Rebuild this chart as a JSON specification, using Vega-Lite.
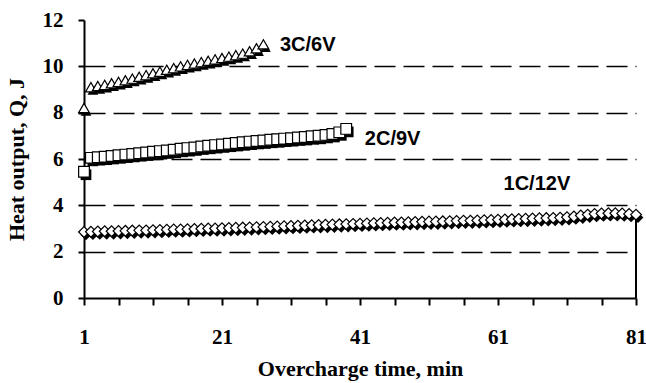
{
  "$schema": "https://vega.github.io/schema/vega-lite/v6.json",
  "width": 552,
  "height": 278,
  "autosize": "none",
  "padding": {"left": 84, "top": 20, "right": 10, "bottom": 85},
  "background": "white",
  "config": {
    "view": {"stroke": null},
    "axis": {
      "labelFont": "Liberation Serif",
      "labelFontWeight": "bold",
      "labelFontSize": 21,
      "labelColor": "black",
      "titleFont": "Liberation Serif",
      "titleFontWeight": "bold",
      "titleFontSize": 22,
      "titleColor": "black",
      "domainColor": "black",
      "domainWidth": 2,
      "tickColor": "black",
      "tickWidth": 2
    }
  },
  "datasets": {
    "heat": [
      {"s": "3C/6V", "t": 1, "q": 8.2},
      {"s": "3C/6V", "t": 2, "q": 9.1},
      {"s": "3C/6V", "t": 3, "q": 9.15},
      {"s": "3C/6V", "t": 4, "q": 9.2},
      {"s": "3C/6V", "t": 5, "q": 9.27},
      {"s": "3C/6V", "t": 6, "q": 9.33},
      {"s": "3C/6V", "t": 7, "q": 9.4},
      {"s": "3C/6V", "t": 8, "q": 9.47},
      {"s": "3C/6V", "t": 9, "q": 9.55},
      {"s": "3C/6V", "t": 10, "q": 9.62},
      {"s": "3C/6V", "t": 11, "q": 9.7},
      {"s": "3C/6V", "t": 12, "q": 9.77},
      {"s": "3C/6V", "t": 13, "q": 9.85},
      {"s": "3C/6V", "t": 14, "q": 9.92},
      {"s": "3C/6V", "t": 15, "q": 10.0},
      {"s": "3C/6V", "t": 16, "q": 10.06},
      {"s": "3C/6V", "t": 17, "q": 10.12},
      {"s": "3C/6V", "t": 18, "q": 10.18},
      {"s": "3C/6V", "t": 19, "q": 10.24},
      {"s": "3C/6V", "t": 20, "q": 10.3},
      {"s": "3C/6V", "t": 21, "q": 10.36},
      {"s": "3C/6V", "t": 22, "q": 10.42},
      {"s": "3C/6V", "t": 23, "q": 10.48},
      {"s": "3C/6V", "t": 24, "q": 10.55},
      {"s": "3C/6V", "t": 25, "q": 10.65},
      {"s": "3C/6V", "t": 26, "q": 10.78},
      {"s": "3C/6V", "t": 27, "q": 10.95},
      {"s": "2C/9V", "t": 1, "q": 5.45},
      {"s": "2C/9V", "t": 2, "q": 6.05},
      {"s": "2C/9V", "t": 3, "q": 6.08},
      {"s": "2C/9V", "t": 4, "q": 6.1},
      {"s": "2C/9V", "t": 5, "q": 6.13},
      {"s": "2C/9V", "t": 6, "q": 6.16},
      {"s": "2C/9V", "t": 7, "q": 6.19},
      {"s": "2C/9V", "t": 8, "q": 6.22},
      {"s": "2C/9V", "t": 9, "q": 6.25},
      {"s": "2C/9V", "t": 10, "q": 6.28},
      {"s": "2C/9V", "t": 11, "q": 6.31},
      {"s": "2C/9V", "t": 12, "q": 6.34},
      {"s": "2C/9V", "t": 13, "q": 6.37},
      {"s": "2C/9V", "t": 14, "q": 6.4},
      {"s": "2C/9V", "t": 15, "q": 6.44},
      {"s": "2C/9V", "t": 16, "q": 6.47},
      {"s": "2C/9V", "t": 17, "q": 6.5},
      {"s": "2C/9V", "t": 18, "q": 6.54},
      {"s": "2C/9V", "t": 19, "q": 6.57},
      {"s": "2C/9V", "t": 20, "q": 6.6},
      {"s": "2C/9V", "t": 21, "q": 6.63},
      {"s": "2C/9V", "t": 22, "q": 6.66},
      {"s": "2C/9V", "t": 23, "q": 6.69},
      {"s": "2C/9V", "t": 24, "q": 6.72},
      {"s": "2C/9V", "t": 25, "q": 6.75},
      {"s": "2C/9V", "t": 26, "q": 6.78},
      {"s": "2C/9V", "t": 27, "q": 6.8},
      {"s": "2C/9V", "t": 28, "q": 6.83},
      {"s": "2C/9V", "t": 29, "q": 6.85},
      {"s": "2C/9V", "t": 30, "q": 6.88},
      {"s": "2C/9V", "t": 31, "q": 6.9},
      {"s": "2C/9V", "t": 32, "q": 6.93},
      {"s": "2C/9V", "t": 33, "q": 6.95},
      {"s": "2C/9V", "t": 34, "q": 6.98},
      {"s": "2C/9V", "t": 35, "q": 7.0},
      {"s": "2C/9V", "t": 36, "q": 7.04},
      {"s": "2C/9V", "t": 37, "q": 7.08},
      {"s": "2C/9V", "t": 38, "q": 7.15},
      {"s": "2C/9V", "t": 39, "q": 7.3},
      {"s": "1C/12V", "t": 1, "q": 2.85},
      {"s": "1C/12V", "t": 2, "q": 2.86},
      {"s": "1C/12V", "t": 3, "q": 2.87},
      {"s": "1C/12V", "t": 4, "q": 2.88},
      {"s": "1C/12V", "t": 5, "q": 2.88},
      {"s": "1C/12V", "t": 6, "q": 2.89},
      {"s": "1C/12V", "t": 7, "q": 2.9},
      {"s": "1C/12V", "t": 8, "q": 2.91},
      {"s": "1C/12V", "t": 9, "q": 2.92},
      {"s": "1C/12V", "t": 10, "q": 2.92},
      {"s": "1C/12V", "t": 11, "q": 2.93},
      {"s": "1C/12V", "t": 12, "q": 2.94},
      {"s": "1C/12V", "t": 13, "q": 2.95},
      {"s": "1C/12V", "t": 14, "q": 2.96},
      {"s": "1C/12V", "t": 15, "q": 2.96},
      {"s": "1C/12V", "t": 16, "q": 2.97},
      {"s": "1C/12V", "t": 17, "q": 2.98},
      {"s": "1C/12V", "t": 18, "q": 2.99},
      {"s": "1C/12V", "t": 19, "q": 3.0},
      {"s": "1C/12V", "t": 20, "q": 3.0},
      {"s": "1C/12V", "t": 21, "q": 3.01},
      {"s": "1C/12V", "t": 22, "q": 3.02},
      {"s": "1C/12V", "t": 23, "q": 3.03},
      {"s": "1C/12V", "t": 24, "q": 3.04},
      {"s": "1C/12V", "t": 25, "q": 3.05},
      {"s": "1C/12V", "t": 26, "q": 3.06},
      {"s": "1C/12V", "t": 27, "q": 3.07},
      {"s": "1C/12V", "t": 28, "q": 3.08},
      {"s": "1C/12V", "t": 29, "q": 3.09},
      {"s": "1C/12V", "t": 30, "q": 3.1},
      {"s": "1C/12V", "t": 31, "q": 3.11},
      {"s": "1C/12V", "t": 32, "q": 3.12},
      {"s": "1C/12V", "t": 33, "q": 3.13},
      {"s": "1C/12V", "t": 34, "q": 3.14},
      {"s": "1C/12V", "t": 35, "q": 3.15},
      {"s": "1C/12V", "t": 36, "q": 3.16},
      {"s": "1C/12V", "t": 37, "q": 3.17},
      {"s": "1C/12V", "t": 38, "q": 3.18},
      {"s": "1C/12V", "t": 39, "q": 3.19},
      {"s": "1C/12V", "t": 40, "q": 3.2},
      {"s": "1C/12V", "t": 41, "q": 3.21},
      {"s": "1C/12V", "t": 42, "q": 3.22},
      {"s": "1C/12V", "t": 43, "q": 3.23},
      {"s": "1C/12V", "t": 44, "q": 3.24},
      {"s": "1C/12V", "t": 45, "q": 3.25},
      {"s": "1C/12V", "t": 46, "q": 3.26},
      {"s": "1C/12V", "t": 47, "q": 3.26},
      {"s": "1C/12V", "t": 48, "q": 3.27},
      {"s": "1C/12V", "t": 49, "q": 3.28},
      {"s": "1C/12V", "t": 50, "q": 3.29},
      {"s": "1C/12V", "t": 51, "q": 3.3},
      {"s": "1C/12V", "t": 52, "q": 3.3},
      {"s": "1C/12V", "t": 53, "q": 3.31},
      {"s": "1C/12V", "t": 54, "q": 3.32},
      {"s": "1C/12V", "t": 55, "q": 3.33},
      {"s": "1C/12V", "t": 56, "q": 3.34},
      {"s": "1C/12V", "t": 57, "q": 3.34},
      {"s": "1C/12V", "t": 58, "q": 3.35},
      {"s": "1C/12V", "t": 59, "q": 3.36},
      {"s": "1C/12V", "t": 60, "q": 3.37},
      {"s": "1C/12V", "t": 61, "q": 3.38},
      {"s": "1C/12V", "t": 62, "q": 3.39},
      {"s": "1C/12V", "t": 63, "q": 3.4},
      {"s": "1C/12V", "t": 64, "q": 3.41},
      {"s": "1C/12V", "t": 65, "q": 3.42},
      {"s": "1C/12V", "t": 66, "q": 3.43},
      {"s": "1C/12V", "t": 67, "q": 3.44},
      {"s": "1C/12V", "t": 68, "q": 3.45},
      {"s": "1C/12V", "t": 69, "q": 3.46},
      {"s": "1C/12V", "t": 70, "q": 3.47},
      {"s": "1C/12V", "t": 71, "q": 3.49},
      {"s": "1C/12V", "t": 72, "q": 3.52},
      {"s": "1C/12V", "t": 73, "q": 3.56},
      {"s": "1C/12V", "t": 74, "q": 3.6},
      {"s": "1C/12V", "t": 75, "q": 3.63},
      {"s": "1C/12V", "t": 76, "q": 3.65},
      {"s": "1C/12V", "t": 77, "q": 3.66},
      {"s": "1C/12V", "t": 78, "q": 3.66},
      {"s": "1C/12V", "t": 79, "q": 3.65},
      {"s": "1C/12V", "t": 80, "q": 3.63},
      {"s": "1C/12V", "t": 81, "q": 3.6}
    ],
    "tags": [
      {"s": "3C/6V", "t": 29.4, "q": 10.9},
      {"s": "2C/9V", "t": 41.7, "q": 6.85},
      {"s": "1C/12V", "t": 61.8, "q": 4.9}
    ],
    "edge": [
      {"t": 81, "q0": 0, "q1": 3.6}
    ]
  },
  "encoding": {
    "x": {
      "field": "t",
      "type": "quantitative",
      "scale": {"domain": [1, 81], "nice": false, "zero": false},
      "axis": {
        "title": "Overcharge time, min",
        "values": [1, 6, 11, 16, 21, 26, 31, 36, 41, 46, 51, 56, 61, 66, 71, 76, 81],
        "labelExpr": "(datum.value - 1) % 20 == 0 ? datum.label : ''",
        "tickSize": 7,
        "labelPadding": 21,
        "titlePadding": 11,
        "grid": false,
        "labelFlush": false,
        "labelOverlap": false
      }
    },
    "y": {
      "field": "q",
      "type": "quantitative",
      "scale": {"domain": [0, 12], "nice": false},
      "axis": {
        "title": "Heat output, Q, J",
        "values": [0, 2, 4, 6, 8, 10, 12],
        "tickSize": 6,
        "labelPadding": 15,
        "titlePadding": 14,
        "grid": true,
        "gridColor": "black",
        "gridWidth": 1.4,
        "gridDash": [21, 8],
        "gridOpacity": {"condition": {"test": "datum.value == 12 || datum.value == 0", "value": 0}, "value": 1}
      }
    }
  },
  "layer": [
    {
      "data": {"name": "edge"},
      "mark": {"type": "rule", "color": "black", "strokeWidth": 2},
      "encoding": {
        "y": {"field": "q0", "type": "quantitative"},
        "y2": {"field": "q1"}
      }
    },
    {
      "data": {"name": "heat"},
      "mark": {"type": "point", "filled": true, "color": "black", "opacity": 1, "size": 115, "xOffset": 2, "yOffset": 3},
      "encoding": {
        "shape": {
          "field": "s",
          "type": "nominal",
          "scale": {"domain": ["3C/6V", "2C/9V", "1C/12V"], "range": ["triangle-up", "square", "diamond"]},
          "legend": null
        }
      }
    },
    {
      "data": {"name": "heat"},
      "mark": {"type": "point", "filled": false, "fill": "white", "fillOpacity": 1, "stroke": "black", "strokeWidth": 1.2, "opacity": 1, "size": 115},
      "encoding": {
        "shape": {
          "field": "s",
          "type": "nominal",
          "scale": {"domain": ["3C/6V", "2C/9V", "1C/12V"], "range": ["triangle-up", "square", "diamond"]},
          "legend": null
        }
      }
    },
    {
      "data": {"name": "tags"},
      "mark": {"type": "text", "align": "left", "baseline": "middle", "font": "Liberation Sans", "fontWeight": "bold", "fontSize": 20, "color": "black"},
      "encoding": {
        "text": {"field": "s"}
      }
    }
  ]
}
